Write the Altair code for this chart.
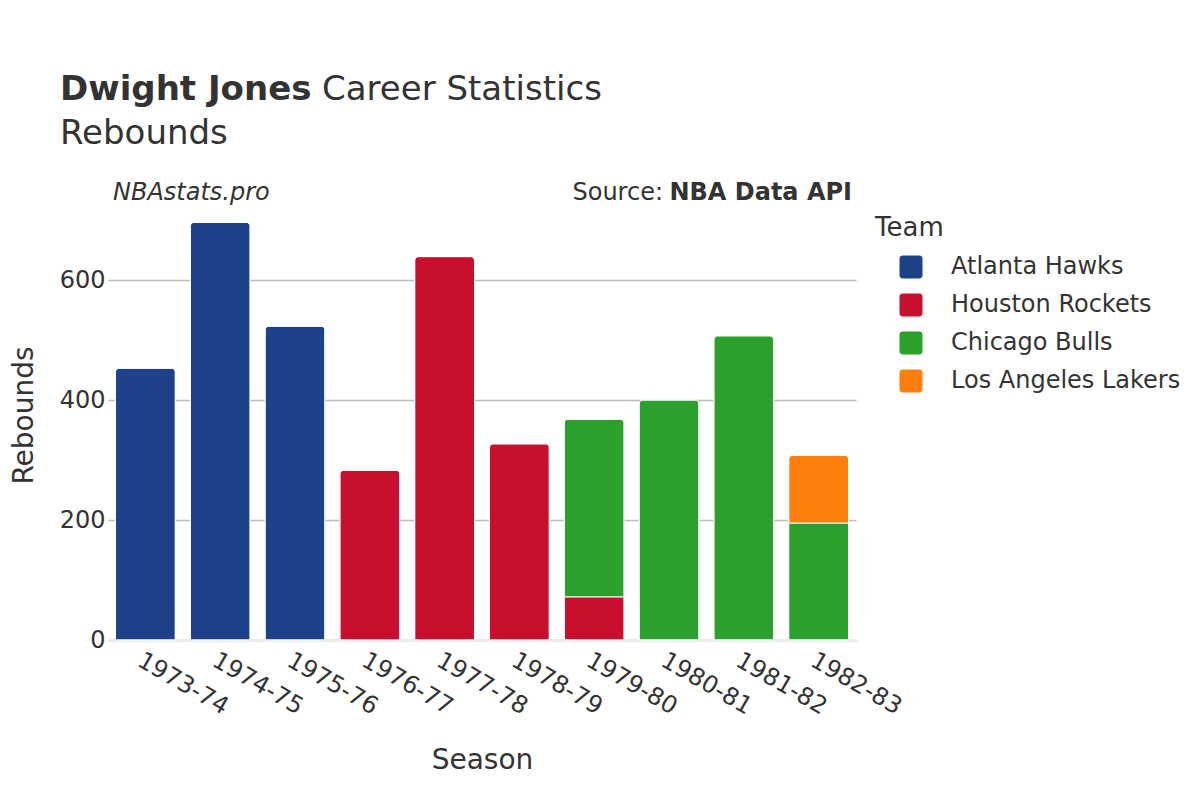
import altair as alt
import pandas as pd

seasons = ["1973-74", "1974-75", "1975-76", "1976-77", "1977-78",
           "1978-79", "1979-80", "1979-80", "1980-81", "1981-82", "1982-83", "1982-83"]
teams = ["Atlanta Hawks", "Atlanta Hawks", "Atlanta Hawks", "Houston Rockets", "Houston Rockets",
         "Houston Rockets", "Houston Rockets", "Chicago Bulls", "Chicago Bulls", "Chicago Bulls",
         "Chicago Bulls", "Los Angeles Lakers"]
rebounds = [453, 696, 523, 283, 639, 327, 72, 296, 400, 507, 195, 113]

season_order = ["1973-74", "1974-75", "1975-76", "1976-77", "1977-78",
                "1978-79", "1979-80", "1980-81", "1981-82", "1982-83"]
team_order = ["Atlanta Hawks", "Houston Rockets", "Chicago Bulls", "Los Angeles Lakers"]
team_colors = ["#1d428a", "#c8102e", "#2ca02c", "#ff7f0e"]
y_ticks = [0, 200, 400, 600]

df = pd.DataFrame({"Season": seasons, "Team": teams, "Rebounds": rebounds})
df["order"] = df["Team"].map({t: i for i, t in enumerate(team_order)})

FONT = "DejaVu Sans"
TXT = "#333333"

rounded = ("M-0.7,-1 L0.7,-1 Q1,-1 1,-0.7 L1,0.7 Q1,1 0.7,1 L-0.7,1 "
           "Q-1,1 -1,0.7 L-1,-0.7 Q-1,-1 -0.7,-1 Z")

bars = alt.Chart(df).mark_bar(
    cornerRadiusTopLeft=4, cornerRadiusTopRight=4, stroke="white", strokeWidth=1
).encode(
    x=alt.X("Season:N", sort=season_order,
            scale=alt.Scale(paddingInner=0.2, paddingOuter=0.1),
            axis=alt.Axis(title="Season", labelAngle=30, labelFontSize=24, labelPadding=8,
                          ticks=False, domain=True, domainColor="#ebebeb", domainWidth=3,
                          titleFontSize=28, titleFontWeight="normal", titlePadding=28,
                          labelColor=TXT, titleColor=TXT, labelFont=FONT, titleFont=FONT)),
    y=alt.Y("Rebounds:Q", stack="zero", scale=alt.Scale(domain=[0, 750], nice=False),
            axis=alt.Axis(title="Rebounds", values=y_ticks, labelFontSize=24, labelPadding=3,
                          ticks=False, domain=False, grid=True, gridColor="#bdbdbd",
                          gridWidth=1.3, titleFontSize=28, titleFontWeight="normal",
                          titlePadding=21, labelColor=TXT, titleColor=TXT,
                          labelFont=FONT, titleFont=FONT)),
    color=alt.Color("Team:N", sort=team_order,
                    scale=alt.Scale(domain=team_order, range=team_colors),
                    legend=alt.Legend(orient="none", legendX=767, legendY=25, title="Team",
                                      titleFontSize=26, titleFontWeight="normal",
                                      labelFontSize=24, labelLimit=0, symbolType=rounded,
                                      symbolSize=530, symbolOffset=24, labelOffset=28,
                                      rowPadding=14, titlePadding=14, symbolStrokeWidth=0,
                                      labelColor=TXT, titleColor=TXT,
                                      labelFont=FONT, titleFont=FONT)),
    order=alt.Order("order:Q", sort="ascending"),
)


def label(text, x, y, size, weight="normal", style="normal", align="left"):
    return alt.Chart(pd.DataFrame({"t": [text]})).mark_text(
        font=FONT, fontSize=size, fontWeight=weight, fontStyle=style, align=align,
        baseline="alphabetic", color=TXT
    ).encode(text="t:N", x=alt.value(x), y=alt.value(y))


title_bold = label("Dwight Jones", -48, -90, 34, weight="bold")
title_rest = label("Career Statistics", 214, -90, 34)
subtitle = label("Rebounds", -48, -46, 34)
brand = label("NBAstats.pro", 5, 10, 24, style="italic")
source_bold = label("NBA Data API", 744, 10, 24, weight="bold", align="right")
source_reg = label("Source:", 555, 10, 24, align="right")

chart = alt.layer(bars, title_bold, title_rest, subtitle, brand, source_bold, source_reg).properties(
    width=748, height=450,
    background="white",
    autosize=alt.AutoSizeParams(type="none"),
    padding={"left": 100, "top": 182, "right": 336, "bottom": 152},
).configure_view(stroke=None, strokeWidth=0)

chart.save("out.html", embed_options={"renderer": "svg", "actions": False})
